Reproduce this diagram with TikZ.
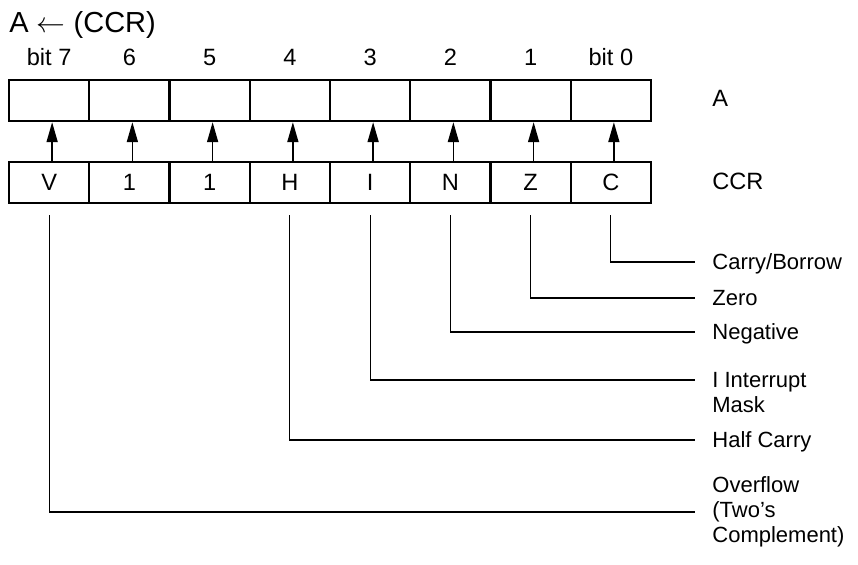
\documentclass[tikz,border=0pt]{standalone}
\usepackage{fontspec}
\setmainfont{Liberation Sans}
\usetikzlibrary{arrows.meta}
\usetikzlibrary{calc}

\tikzset{
  cell/.style={draw,line width=1.2pt,minimum width=40.125pt,minimum height=20.5pt,inner sep=0pt,font=\fontsize{11.8}{13}\selectfont},
  txt/.style={inner sep=0pt,font=\fontsize{11}{12.5}\selectfont},
  lead/.style={line width=0.6pt},
  feed/.style={line width=0.8pt,-{Triangle[length=10pt,width=5.5pt]}}
}

\begin{document}
\begin{tikzpicture}[x=0.5pt,y=-0.5pt]
\useasboundingbox (0,0) rectangle (858,565);
\node[txt,anchor=base west,font=\fontsize{14.5}{16}\selectfont] (title) at (9,33) {A $\leftarrow$ (CCR)};
\foreach \b/\f/\n in {7/V/bit 7,6/1/6,5/1/5,4/H/4,3/I/3,2/N/2,1/Z/1,0/C/bit 0} {
  \node[cell] (a\b) at ({9+80.25*(7-\b)+40.125},100.5) {};
  \node[cell] (c\b) at ({9+80.25*(7-\b)+40.125},182.5) {\f};
  \node[txt,anchor=base,font=\fontsize{11.8}{13}\selectfont] (n\b) at ($(a\b.north)+(0,-13)$) {\n};
  \draw[feed] ([xshift=1.5pt]c\b.north) -- ([xshift=1.5pt]a\b.south);
}
\node[txt,anchor=base west,font=\fontsize{11.8}{13}\selectfont] (lA) at (712,107) {A};
\node[txt,anchor=base west,font=\fontsize{11.8}{13}\selectfont] (lCCR) at (712,190) {CCR};
% flag names
\node[txt,anchor=base west] (fC) at (712,270) {Carry/Borrow};
\node[txt,anchor=base west] (fZ) at (712,306) {Zero};
\node[txt,anchor=base west] (fN) at (712,340) {Negative};
\node[txt,anchor=north west,align=left] (fI) at (712,372) {I Interrupt\\Mask};
\node[txt,anchor=base west] (fH) at (712,448) {Half Carry};
\node[txt,anchor=west,align=left] (fV) at (712,512) {Overflow\\(Two’s\\Complement)};
\foreach \b/\y in {0/262,1/298,2/332,3/380,4/440,7/512} {
  \coordinate (e\b) at (695,\y);
  \draw[lead] ([yshift=-5.5pt]c\b.south) |- (e\b);
}
\end{tikzpicture}
\end{document}
